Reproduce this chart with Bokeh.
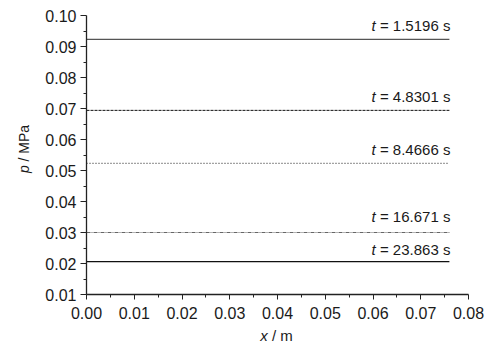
import math
from bokeh.plotting import figure
from bokeh.models import FixedTicker, PrintfTickFormatter, ColumnDataSource, Range1d
from bokeh.core.properties import value
from bokeh.embed import file_html
from bokeh.resources import INLINE

# ---- data ----
times = ["1.5196", "4.8301", "8.4666", "16.671", "23.863"]
pressures = [0.0923, 0.0694, 0.0523, 0.0300, 0.0206]
x_start = 0.0
x_end = 0.076
x_ticks = [0.00, 0.01, 0.02, 0.03, 0.04, 0.05, 0.06, 0.07, 0.08]
y_ticks = [0.01, 0.02, 0.03, 0.04, 0.05, 0.06, 0.07, 0.08, 0.09, 0.10]
x_label_var, x_label_unit = "x", "/ m"
y_label_var, y_label_unit = "p", "/ MPa"

# ---- layout / styles ----
W_PX, H_PX = 485, 345
AX_LEFT, AX_RIGHT, AX_TOP, AX_BOTTOM = 86, 468, 15, 294   # pixel box of the axes
line_colors = ["#555555", "#111111", "#444444", "#666666", "#111111"]
line_dashes = ["solid", "3 1", "1 2", "4 1 1 1", "solid"]
line_widths = [1.2, 1.0, 1.2, 1.0, 1.2]
SHIFT = 6                              # correction of the drawn baseline
label_dy = [-8, -8, -8, -10, -6]      # px above the line (baseline)
FONT = "Liberation Sans"
ANN_SIZE = 15
XL_SIZE = 15
YL_SIZE = 14

# Arial/Liberation Sans advance widths (per 1000 em)
W = {" ": 278, "=": 584, ".": 278, "s": 500, "/": 278, "m": 833, "M": 833,
     "P": 667, "a": 556, "t": 278, "x": 500, "p": 556}
def text_w(s, size):
    return sum(W.get(c, 556) for c in s) * size / 1000.0

# ranges so that the axes box sits where it does in the reference,
# with the plotting frame covering the whole canvas
xs = (AX_RIGHT - AX_LEFT) / (x_ticks[-1] - x_ticks[0])
ys = (AX_BOTTOM - AX_TOP) / (y_ticks[-1] - y_ticks[0])
x_rng = Range1d(x_ticks[0] - AX_LEFT / xs, x_ticks[0] + (W_PX - AX_LEFT) / xs)
y_rng = Range1d(y_ticks[-1] - (H_PX - AX_TOP) / ys, y_ticks[-1] + AX_TOP / ys)

p = figure(width=W_PX, height=H_PX, output_backend="svg", toolbar_location=None,
           x_range=x_rng, y_range=y_rng,
           min_border_left=0, min_border_right=0, min_border_top=0, min_border_bottom=0)
p.outline_line_color = None
p.xgrid.grid_line_color = None
p.ygrid.grid_line_color = None
p.background_fill_color = "white"
p.border_fill_color = "white"

xminor = [(a + b) / 2 for a, b in zip(x_ticks[:-1], x_ticks[1:])]
yminor = [(a + b) / 2 for a, b in zip(y_ticks[:-1], y_ticks[1:])]
p.xaxis.ticker = FixedTicker(ticks=x_ticks, minor_ticks=xminor)
p.yaxis.ticker = FixedTicker(ticks=y_ticks, minor_ticks=yminor)
p.xaxis.fixed_location = y_ticks[0]
p.yaxis.fixed_location = x_ticks[0]
p.xaxis.bounds = (x_ticks[0], x_ticks[-1])
p.yaxis.bounds = (y_ticks[0], y_ticks[-1])
for ax in (p.xaxis[0], p.yaxis[0]):
    ax.formatter = PrintfTickFormatter(format="%.2f")
    ax.axis_line_color = "#222222"
    ax.axis_line_width = 1.3
    ax.major_tick_line_color = "#222222"
    ax.minor_tick_line_color = "#222222"
    ax.major_tick_in = 0
    ax.minor_tick_in = 0
    ax.major_label_text_font = FONT
    ax.major_label_text_font_size = "16px"
    ax.major_label_text_color = "#1a1a1a"
p.xaxis.major_tick_out = 5
p.xaxis.minor_tick_out = 3
p.yaxis.major_tick_out = 6
p.yaxis.minor_tick_out = 3
p.xaxis.major_label_standoff = 7
p.yaxis.major_label_standoff = 4

# lines
for v, c, d, w in zip(pressures, line_colors, line_dashes, line_widths):
    p.line(x=[x_start, x_end], y=[v, v], line_color=c, line_dash=d, line_width=w)

# "t = ... s" labels
rest = ["= %s s" % t for t in times]
src = ColumnDataSource(dict(
    x=[x_end] * len(times), y=pressures, rest=rest, t=["t"] * len(times),
    dy=[d - SHIFT for d in label_dy],
    tdx=[1 - text_w(" " + r, ANN_SIZE) for r in rest],
))
p.text(x="x", y="y", text="rest", source=src, y_offset="dy", x_offset=1,
       text_align="right", text_baseline="alphabetic",
       text_font=value(FONT), text_font_size="%dpx" % ANN_SIZE, text_color="#1a1a1a")
p.text(x="x", y="y", text="t", source=src, y_offset="dy", x_offset="tdx",
       text_align="right", text_baseline="alphabetic",
       text_font=value(FONT), text_font_style="italic",
       text_font_size="%dpx" % ANN_SIZE, text_color="#1a1a1a")

# axis titles (italic variable, upright unit)
x_mid = (x_ticks[0] + x_ticks[-1]) / 2
xl_w = text_w(x_label_var + " " + x_label_unit, XL_SIZE)
xl_y = y_ticks[0]
xl_dy = 47 - SHIFT   # px below the x axis (baseline)
xl_dx = -xl_w / 2 - 1
p.text(x=[x_mid], y=[xl_y], text=[x_label_var], x_offset=xl_dx, y_offset=xl_dy,
       text_align="left", text_baseline="alphabetic", text_font=value(FONT),
       text_font_style="italic", text_font_size="%dpx" % XL_SIZE, text_color="#1a1a1a")
p.text(x=[x_mid], y=[xl_y], text=[x_label_unit],
       x_offset=xl_dx + text_w(x_label_var + " ", XL_SIZE), y_offset=xl_dy,
       text_align="left", text_baseline="alphabetic", text_font=value(FONT),
       text_font_size="%dpx" % XL_SIZE, text_color="#1a1a1a")

y_mid = (y_ticks[0] + y_ticks[-1]) / 2
yl_w = text_w(y_label_var + " " + y_label_unit, YL_SIZE)
yl_x = x_ticks[0]
yl_dx = -57 - SHIFT  # px left of the y axis (baseline)
yl_dy = yl_w / 2 - 6
p.text(x=[yl_x], y=[y_mid], text=[y_label_var], x_offset=yl_dx, y_offset=yl_dy,
       angle=math.pi / 2, text_align="left", text_baseline="alphabetic",
       text_font=value(FONT), text_font_style="italic",
       text_font_size="%dpx" % YL_SIZE, text_color="#1a1a1a")
p.text(x=[yl_x], y=[y_mid], text=[y_label_unit], x_offset=yl_dx,
       y_offset=yl_dy - text_w(y_label_var + " ", YL_SIZE),
       angle=math.pi / 2, text_align="left", text_baseline="alphabetic",
       text_font=value(FONT), text_font_size="%dpx" % YL_SIZE, text_color="#1a1a1a")

open("out.html", "w").write(file_html(p, INLINE))
